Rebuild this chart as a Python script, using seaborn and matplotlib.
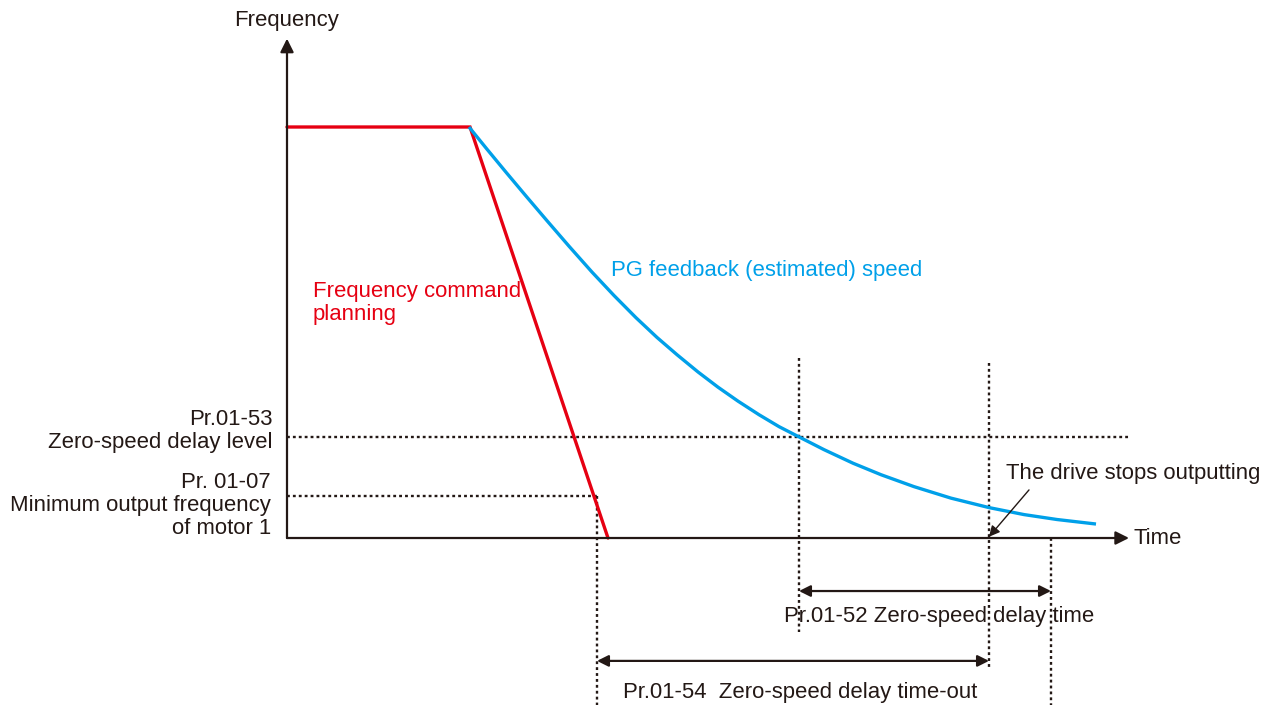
import matplotlib
matplotlib.use("Agg")
import matplotlib.pyplot as plt
import seaborn as sns
import pandas as pd

# Frequency (% of command) versus time (s)
cmd_time = [0.0, 1.83, 3.21]
cmd_freq = [100.0, 100.0, 0.0]

fb_time = [1.82, 2.00, 2.19, 2.39, 2.60, 2.82, 3.05, 3.27, 3.49, 3.70, 3.90, 4.11, 4.31,
           4.51, 4.72, 4.92, 5.12, 5.37, 5.66, 5.94, 6.27, 6.64, 7.02, 7.37, 7.70, 8.09]
fb_freq = [100.0, 94.6, 89.0, 83.2, 77.2, 71.0, 64.7, 59.0, 53.6, 48.8, 44.6, 40.4, 36.7,
           33.3, 30.0, 27.1, 24.6, 21.5, 18.2, 15.4, 12.5, 9.7, 7.4, 5.7, 4.5, 3.4]

zero_speed_level = 24.6      # Pr.01-53
min_output_freq = 10.2       # Pr.01-07
t_min_freq = 3.10            # command reaches minimum output frequency
t_delay_start = 5.12         # feedback falls below zero-speed level
t_timeout = 7.02             # Pr.01-54 time-out, drive stops output
t_delay_end = 7.64           # end of Pr.01-52 delay time

RED = "#E60012"
BLUE = "#00A0E9"
INK = "#231815"

sns.set_theme(style="white")
plt.rcParams["font.family"] = ["Liberation Sans", "DejaVu Sans"]
FS = 15.9
LS = 1.12

fig = plt.figure(figsize=(12.64, 7.11), dpi=100)
ax = fig.add_axes([0, 0, 1, 1])
ax.set_xlim(-2.87, 9.77)
ax.set_ylim(-42.09, 130.9)
ax.axis("off")

cmd = pd.DataFrame({"time": cmd_time, "freq": cmd_freq})
fb = pd.DataFrame({"time": fb_time, "freq": fb_freq})
sns.lineplot(data=cmd, x="time", y="freq", color=RED, lw=2.4, sort=False, ax=ax,
             solid_joinstyle="miter", zorder=4)
sns.lineplot(data=fb, x="time", y="freq", color=BLUE, lw=2.4, sort=False, ax=ax,
             solid_capstyle="butt", solid_joinstyle="round", zorder=4)

# axes with arrow heads
axis_kw = dict(arrowstyle="-|>", color=INK, lw=1.6, mutation_scale=20, shrinkA=0, shrinkB=0)
ax.annotate("", xy=(0, 121.5), xytext=(0, 0), arrowprops=axis_kw, zorder=5)
ax.annotate("", xy=(8.42, 0), xytext=(0, 0), arrowprops=axis_kw, zorder=5)

# dotted guide lines
dot = dict(color=INK, lw=1.7, linestyle=(0, (1.2, 1.3)), zorder=2)
ax.plot([0, 8.43], [zero_speed_level, zero_speed_level], **dot)
ax.plot([0, t_min_freq], [min_output_freq, min_output_freq], **dot)
ax.plot([t_min_freq, t_min_freq], [min_output_freq, -40.6], **dot)
ax.plot([t_delay_start, t_delay_start], [43.8, -22.9], **dot)
ax.plot([t_timeout, t_timeout], [42.6, -31.6], **dot)
ax.plot([t_delay_end, t_delay_end], [0, -40.6], **dot)

# duration arrows
dbl = dict(arrowstyle="<|-|>", color=INK, lw=1.6, mutation_scale=17, shrinkA=0, shrinkB=0)
ax.annotate("", xy=(t_delay_start, -12.9), xytext=(t_delay_end, -12.9), arrowprops=dbl)
ax.annotate("", xy=(t_min_freq, -29.9), xytext=(t_timeout, -29.9), arrowprops=dbl)

# labels
ax.text(0, 126.0, "Frequency", ha="center", va="center", fontsize=FS, color=INK)
ax.text(8.46, 0, "Time", ha="left", va="center", fontsize=FS, color=INK)
ax.text(3.24, 65.0, "PG feedback (estimated) speed", ha="left", va="center",
        fontsize=FS, color=BLUE)
ax.text(0.26, 57.1, "Frequency command\nplanning", ha="left", va="center",
        fontsize=FS, color=RED, linespacing=LS)
ax.text(-0.14, 26.1, "Pr.01-53\nZero-speed delay level", ha="right", va="center",
        fontsize=FS, color=INK, linespacing=LS, multialignment="right")
ax.text(-0.16, 8.0, "Pr. 01-07\nMinimum output frequency\nof motor 1", ha="right",
        va="center", fontsize=FS, color=INK, linespacing=LS, multialignment="right")
ax.text(4.97, -19.2, "Pr.01-52 Zero-speed delay time", ha="left", va="center",
        fontsize=FS, color=INK)
ax.text(3.36, -37.7, "Pr.01-54  Zero-speed delay time-out", ha="left", va="center",
        fontsize=FS, color=INK)
ax.text(7.19, 15.8, "The drive stops outputting", ha="left", va="center",
        fontsize=FS, color=INK)
ax.annotate("", xy=(t_timeout, 0.3), xytext=(7.42, 11.7),
            arrowprops=dict(arrowstyle="-|>", color=INK, lw=1.0, mutation_scale=16,
                            shrinkA=0, shrinkB=0), zorder=6)

fig.savefig("out.png", dpi=100, facecolor="white")
